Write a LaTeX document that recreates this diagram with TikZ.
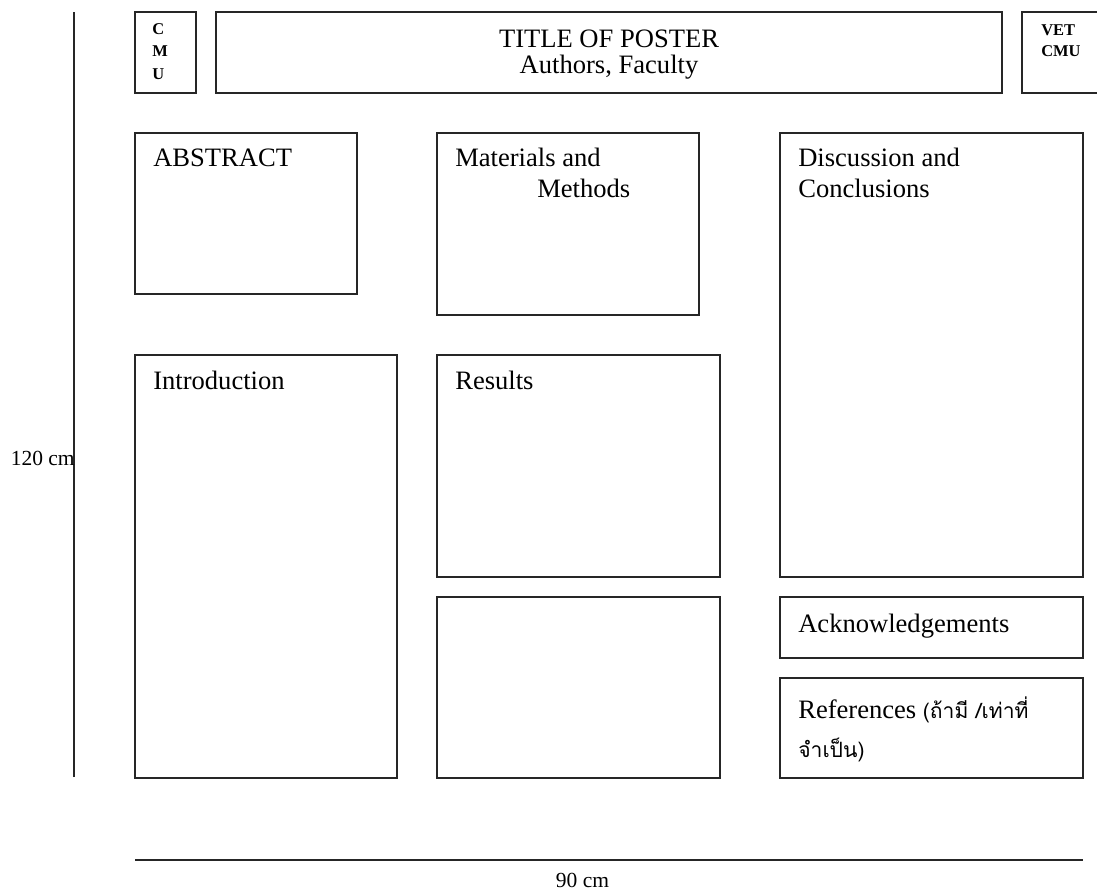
\documentclass[tikz,border=0pt]{standalone}
\usepackage{fontspec}
\setmainfont{Liberation Serif}
\newfontfamily\thaifont[Script=Thai]{Loma}
\usetikzlibrary{positioning}

\begin{document}
\begin{tikzpicture}[
  panel/.style={draw=black!85,line width=1.1pt},
  heading/.style={font=\fontsize{18.9}{22}\selectfont,anchor=base west,inner sep=0pt},
  logo/.style={font=\fontsize{11.7}{15}\selectfont\bfseries,anchor=base west,inner sep=0pt,align=left},
  dimension/.style={font=\fontsize{15.3}{18}\selectfont,inner sep=0pt}]
\clip (0,0) rectangle (27.425,22.3);
\fill[white] (0,0) rectangle (27.425,22.3);

% header row
\draw[panel] (3.375,19.975) rectangle (4.9,22);
\draw[panel] (5.4,19.975) rectangle (25.05,22);
\draw[panel] (25.55,19.975) rectangle (27.6,22);
\node[logo] (cmu) at (3.8,20.3) {C\\[0.5pt]M\\[2pt]U};
\node[logo] (vet) at (26.025,20.875) {VET\\CMU};
\node[font=\fontsize{18.9}{22}\selectfont,anchor=base,inner sep=0pt] (title) at (15.225,21.1) {TITLE OF POSTER};
\node[font=\fontsize{18.9}{22}\selectfont,anchor=base,inner sep=0pt] (authors) at (15.225,20.45) {Authors, Faculty};

% left column
\draw[panel] (3.375,14.95) rectangle (8.925,18.975);
\node[heading] (abstract) at (3.825,18.125) {ABSTRACT};
\draw[panel] (3.375,2.85) rectangle (9.925,13.425);
\node[heading] (intro) at (3.825,12.575) {Introduction};

% middle column
\draw[panel] (10.925,14.425) rectangle (17.475,18.975);
\node[heading] (materials) at (11.375,18.125) {Materials and};
\node[heading] (methods) at (13.425,17.35) {Methods};
\draw[panel] (10.925,7.875) rectangle (18,13.425);
\node[heading] (results) at (11.375,12.575) {Results};
\draw[panel] (10.925,2.85) rectangle (18,7.375);

% right column
\draw[panel] (19.5,7.875) rectangle (27.075,18.975);
\node[heading] (discussion) at (19.95,18.125) {Discussion and};
\node[heading] (conclusions) at (19.95,17.35) {Conclusions};
\draw[panel] (19.5,5.85) rectangle (27.075,7.375);
\node[heading] (ack) at (19.95,6.5) {Acknowledgements};
\draw[panel] (19.5,2.85) rectangle (27.075,5.35);
\node[heading] (refs) at (19.95,4.35) {References {\thaifont\fontsize{15}{18}\selectfont (ถ้ามี /เท่าที่}};
\node[heading] (refs2) at (19.95,3.375) {\thaifont\fontsize{15}{18}\selectfont จำเป็น)};

% poster size
\draw[panel] (1.85,2.875) -- (1.85,22);
\node[dimension,anchor=base east] (height) at (1.875,10.675) {120 cm};
\draw[panel] (3.375,0.8) -- (27.075,0.8);
\node[dimension,anchor=base] (width) at (14.5625,0.125) {90 cm};

\end{tikzpicture}
\end{document}
